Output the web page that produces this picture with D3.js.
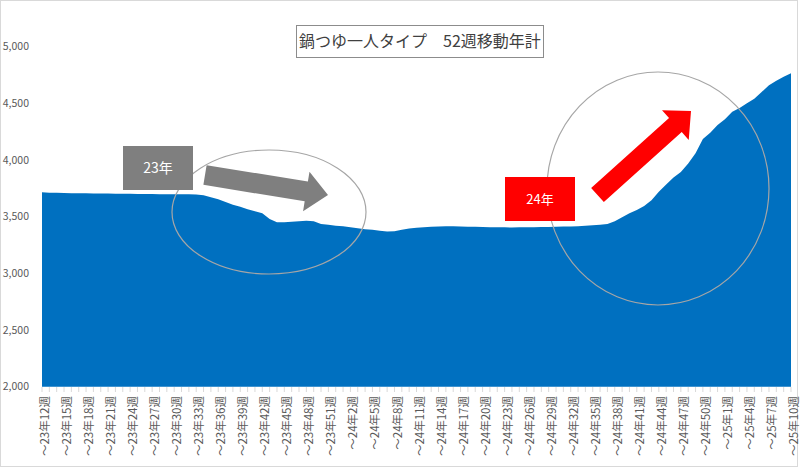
<!DOCTYPE html>
<html>
<head>
<meta charset="utf-8">
<title>鍋つゆ一人タイプ 52週移動年計</title>
<script src="https://cdn.jsdelivr.net/npm/d3@7"></script>
<style>
  body { margin: 0; background: #fff; }
  text { font-family: "Noto Sans CJK JP", "Noto Sans", sans-serif; }
  .tick-y { fill: #595959; font-size: 10.5px; }
  .tick-x { fill: #595959; font-size: 11.5px; }
</style>
</head>
<body>
<svg width="800" height="468"></svg>
<script>
// 週ラベル: 23年12週 ～ 25年10週
var startYear = 23, startWeek = 12, weeksInYear = 52, weekCount = 103
var weeks = []
for (var i = 0, y = startYear, w = startWeek; i < weekCount; i++) {
  weeks.push('～' + y + '年' + w + '週')
  w++
  if (w > weeksInYear) { w = 1; y++ }
}

// 52週移動年計
var values = [
  3715, 3712, 3711, 3709, 3708, 3708, 3706, 3705, 3705, 3704, 3703, 3703, 3702, 3701, 3701, 3700, 3699, 3699, 3698, 3698, 3697,
  3695, 3690, 3672, 3655, 3630, 3605, 3588, 3565, 3548, 3530, 3480, 3450, 3452, 3456, 3460, 3465, 3460, 3436, 3428, 3421,
  3415, 3408, 3398, 3390, 3385, 3377, 3370, 3372, 3385, 3395, 3402, 3408, 3412, 3414, 3416, 3415, 3414, 3412, 3411, 3410,
  3408, 3407, 3406, 3405, 3406, 3407, 3408, 3409, 3410, 3412, 3413, 3414, 3416, 3420, 3424, 3428, 3435, 3460, 3495, 3530,
  3560, 3595, 3645, 3720, 3785, 3845, 3895, 3970, 4060, 4185, 4240, 4310, 4360, 4425, 4460, 4500, 4540, 4600, 4660, 4700, 4735, 4765
]

var yTicks = [2000, 2500, 3000, 3500, 4000, 4500, 5000]
var labelStep = 3
var title = '鍋つゆ一人タイプ　52週移動年計'
var notes = ['23年', '24年']

var svg = d3.select('svg')

// 枠
svg.append('rect')
  .attr('x', 0.5).attr('y', 0.5)
  .attr('width', 797).attr('height', 466)
  .attr('fill', 'none').attr('stroke', '#d9d9d9')

var x = d3.scalePoint().domain(weeks).range([42, 791])
var yScale = d3.scaleLinear().domain([2000, 5000]).range([386.7, 46.7])

// エリア
var area = d3.area()
  .x(function(d, i) { return x(weeks[i]) })
  .y0(yScale(2000))
  .y1(function(d) { return yScale(d) })

svg.append('path')
  .datum(values)
  .attr('d', area)
  .attr('fill', '#0070c0')

// Y軸ラベル
svg.append('g').selectAll('text')
  .data(yTicks)
  .enter()
  .append('text')
  .classed('tick-y', true)
  .attr('x', 29)
  .attr('y', function(d) { return yScale(d) })
  .attr('dy', '0.35em')
  .attr('text-anchor', 'end')
  .text(d3.format(','))

// X軸 目盛
svg.append('g').selectAll('line')
  .data(weeks)
  .enter()
  .append('line')
  .attr('x1', function(d) { return x(d) })
  .attr('x2', function(d) { return x(d) })
  .attr('y1', 387)
  .attr('y2', 392)
  .attr('stroke', '#d9d9d9')

svg.append('g').selectAll('text')
  .data(weeks.filter(function(d, i) { return i % labelStep === 0 }))
  .enter()
  .append('text')
  .classed('tick-x', true)
  .attr('transform', function(d) { return 'translate(' + (x(d) + 3) + ',396) rotate(-90)' })
  .attr('dy', '0.35em')
  .attr('text-anchor', 'end')
  .text(function(d) { return d })

// 円
svg.append('ellipse')
  .attr('cx', 269).attr('cy', 212).attr('rx', 97).attr('ry', 62)
  .attr('fill', 'none').attr('stroke', '#a6a6a6').attr('stroke-width', 1.2)
svg.append('ellipse')
  .attr('cx', 658).attr('cy', 188.5).attr('rx', 111).attr('ry', 116.5)
  .attr('fill', 'none').attr('stroke', '#a6a6a6').attr('stroke-width', 1.2)

// 矢印
function arrow(x0, y0, x1, y1, body, head, headLen, color) {
  var len = Math.hypot(x1 - x0, y1 - y0)
  var dx = (x1 - x0) / len, dy = (y1 - y0) / len
  var nx = -dy, ny = dx
  var bx = x1 - dx * headLen, by = y1 - dy * headLen
  var pts = [
    [x0 + nx * body, y0 + ny * body],
    [bx + nx * body, by + ny * body],
    [bx + nx * head, by + ny * head],
    [x1, y1],
    [bx - nx * head, by - ny * head],
    [bx - nx * body, by - ny * body],
    [x0 - nx * body, y0 - ny * body]
  ]
  svg.append('polygon')
    .attr('points', pts.map(function(p) { return p.join(',') }).join(' '))
    .attr('fill', color)
}
arrow(205, 175, 328, 195, 10, 20, 22, '#7f7f7f')
arrow(597.5, 195, 691, 111, 9.5, 20, 21, '#ff0000')

// 年ボックス
var boxes = [
  { x: 123, y: 146, w: 70, h: 44, fill: '#7f7f7f', size: 14 },
  { x: 505, y: 177, w: 70, h: 44, fill: '#ff0000', size: 13 }
]
boxes.forEach(function(b, i) {
  svg.append('rect')
    .attr('x', b.x).attr('y', b.y).attr('width', b.w).attr('height', b.h)
    .attr('fill', b.fill)
  svg.append('text')
    .attr('x', b.x + b.w / 2).attr('y', b.y + b.h / 2)
    .attr('dy', '0.35em')
    .attr('text-anchor', 'middle')
    .attr('fill', '#fff')
    .style('font-size', b.size + 'px')
    .text(notes[i])
})

// タイトル
svg.append('rect')
  .attr('x', 296.5).attr('y', 25.5).attr('width', 247).attr('height', 32)
  .attr('fill', '#fff').attr('stroke', '#8c8c8c')
svg.append('text')
  .attr('x', 420).attr('y', 41.5)
  .attr('dy', '0.35em')
  .attr('text-anchor', 'middle')
  .attr('fill', '#404040')
  .style('font-size', '16px')
  .text(title)
</script>
</body>
</html>
